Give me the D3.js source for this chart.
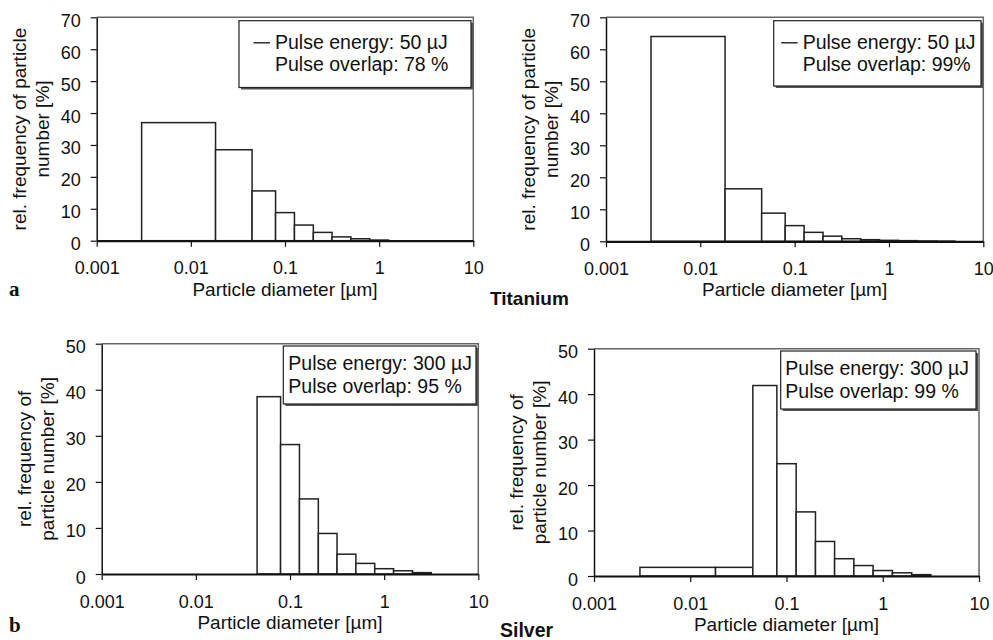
<!DOCTYPE html>
<meta charset="utf-8">
<script src="https://d3js.org/d3.v7.min.js"></script>
<style>
  body { margin: 0; background: #fff; }
  text { font-family: "Liberation Sans", Arial, sans-serif; fill: #111; }
</style>
<div id="my_dataviz"></div>
<script>
// bin edges of the particle size classes [µm]
var binEdges = [0.003, 0.0183, 0.0447, 0.0794, 0.126, 0.2, 0.316, 0.501, 0.794, 1.26, 2.0, 3.16, 5.01];

// rel. frequency per class [%]
var tiOverlap78 = [37, 28.5, 15.6, 8.8, 4.9, 2.6, 1.2, 0.6, 0.2, 0, 0, 0];
var tiOverlap99 = [64, 16.4, 8.8, 4.9, 2.8, 1.6, 0.8, 0.5, 0.3, 0.2, 0.1, 0.05];
var agOverlap95 = [0, 0, 38.5, 28.1, 16.3, 8.8, 4.3, 2.3, 1.15, 0.7, 0.3, 0];
var agOverlap99 = [1.9, 1.9, 41.9, 24.7, 14.1, 7.6, 3.8, 2.3, 1.2, 0.7, 0.3, 0];

var xTicks = [0.001, 0.01, 0.1, 1, 10];
var xTickLabels = ["0.001", "0.01", "0.1", "1", "10"];

var svg = d3.select("#my_dataviz")
  .append("svg")
    .attr("width", 993)
    .attr("height", 640);

// panel layout (pixel boxes)
var panels = [
  {l: 96.7, t: 17.3, r: 473.3, b: 240.7, ymax: 70, values: tiOverlap78,
   legend: ["Pulse energy: 50 µJ", "Pulse overlap: 78 %"], dash: true,
   box: [239, 20.7, 471, 87.5], textX: 275, base: [49.3, 71],
   ylab: ["rel. frequency of particle", "number [%]"]},
  {l: 606, t: 17.3, r: 983.3, b: 241.3, ymax: 70, values: tiOverlap99,
   legend: ["Pulse energy: 50 µJ", "Pulse overlap: 99%"], dash: true,
   box: [773.7, 20.7, 981, 86], textX: 802.7, base: [49.3, 70.5],
   ylab: ["rel. frequency of particle", "number [%]"]},
  {l: 101.7, t: 343.7, r: 478.3, b: 574, ymax: 50, values: agOverlap95,
   legend: ["Pulse energy: 300 µJ", "Pulse overlap: 95 %"], dash: false,
   box: [283.3, 346, 476, 404], textX: 288.3, base: [370, 392.7],
   ylab: ["rel. frequency of", "particle number [%]"]},
  {l: 594, t: 348.7, r: 979, b: 576, ymax: 50, values: agOverlap99,
   legend: ["Pulse energy: 300 µJ", "Pulse overlap: 99 %"], dash: false,
   box: [780.7, 351, 976, 409], textX: 785.3, base: [375, 397.7],
   ylab: ["rel. frequency of", "particle number [%]"]}
];

panels.forEach(function(p) {
  var x = d3.scaleLog().domain([0.001, 10]).range([p.l, p.r]);
  var y = d3.scaleLinear().domain([0, p.ymax]).range([p.b, p.t]);
  var g = svg.append("g");

  // frame top / right
  g.append("path")
    .attr("d", "M" + p.l + "," + p.t + "H" + p.r + "V" + p.b)
    .attr("fill", "none")
    .attr("stroke", "#666")
    .attr("stroke-width", 1.5);

  // bars
  var bins = p.values.map(function(v, i) { return {x0: binEdges[i], x1: binEdges[i + 1], v: v}; })
    .filter(function(d) { return d.v > 0; });
  g.selectAll("rect.bar")
    .data(bins)
    .enter()
    .append("rect")
      .attr("class", "bar")
      .attr("x", function(d) { return x(d.x0); })
      .attr("width", function(d) { return x(d.x1) - x(d.x0); })
      .attr("y", function(d) { return y(d.v); })
      .attr("height", function(d) { return y(0) - y(d.v); })
      .attr("fill", "#fff")
      .attr("stroke", "#222")
      .attr("stroke-width", 1.5);

  // y axis
  var ya = g.append("g")
    .attr("transform", "translate(" + p.l + ",0)")
    .call(d3.axisLeft(y).ticks(p.ymax / 10).tickSize(6).tickSizeOuter(0).tickPadding(10));
  ya.select(".domain").attr("stroke", "#111").attr("stroke-width", 1.5);
  ya.selectAll(".tick line").attr("stroke", "#111").attr("stroke-width", 1.2);
  ya.selectAll("text").style("font-size", "18px").attr("dy", "0.5em").attr("fill", "#111");

  // x axis
  var xa = g.append("g")
    .attr("transform", "translate(0," + p.b + ")")
    .call(d3.axisBottom(x).tickValues(xTicks)
      .tickFormat(function(d, i) { return xTickLabels[i]; })
      .tickSize(6).tickSizeOuter(0).tickPadding(15));
  xa.select(".domain").attr("stroke", "#111").attr("stroke-width", 2.2);
  xa.selectAll(".tick line").attr("stroke", "#111").attr("stroke-width", 1.2);
  xa.selectAll("text").style("font-size", "18px").attr("fill", "#111");

  // axis titles
  g.append("text")
    .attr("x", (p.l + p.r) / 2)
    .attr("y", p.b + 55)
    .attr("text-anchor", "middle")
    .style("font-size", "19px")
    .text("Particle diameter [µm]");

  var cy = (p.t + p.b) / 2;
  p.ylab.forEach(function(s, i) {
    g.append("text")
      .attr("transform", "translate(" + (p.l - 71 + i * 23) + "," + cy + ")rotate(-90)")
      .attr("text-anchor", "middle")
      .style("font-size", "19px")
      .text(s);
  });

  // legend box with shadow
  var bx = p.box;
  g.append("rect")
    .attr("x", bx[0] + 2).attr("y", bx[1] + 2)
    .attr("width", bx[2] - bx[0]).attr("height", bx[3] - bx[1])
    .attr("fill", "#555");
  g.append("rect")
    .attr("x", bx[0]).attr("y", bx[1])
    .attr("width", bx[2] - bx[0]).attr("height", bx[3] - bx[1])
    .attr("fill", "#fff")
    .attr("stroke", "#222")
    .attr("stroke-width", 1.2);
  if (p.dash) {
    g.append("line")
      .attr("x1", p.textX - 21.5).attr("x2", p.textX - 5)
      .attr("y1", p.base[0] - 6.5).attr("y2", p.base[0] - 6.5)
      .attr("stroke", "#111")
      .attr("stroke-width", 1.3);
  }
  p.legend.forEach(function(s, i) {
    g.append("text")
      .attr("x", p.textX)
      .attr("y", p.base[i])
      .style("font-size", "19.5px")
      .text(s);
  });
});

// panel letters and material names
svg.append("text")
  .attr("x", 9).attr("y", 296)
  .style("font-family", "'Liberation Serif', 'Times New Roman', serif")
  .style("font-weight", "bold")
  .style("font-size", "21px")
  .text("a");
svg.append("text")
  .attr("x", 9).attr("y", 632)
  .style("font-family", "'Liberation Serif', 'Times New Roman', serif")
  .style("font-weight", "bold")
  .style("font-size", "21px")
  .text("b");
svg.append("text")
  .attr("x", 490).attr("y", 305)
  .style("font-weight", "bold")
  .style("font-size", "19px")
  .text("Titanium");
svg.append("text")
  .attr("x", 500).attr("y", 637)
  .style("font-weight", "bold")
  .style("font-size", "19.5px")
  .text("Silver");
</script>
